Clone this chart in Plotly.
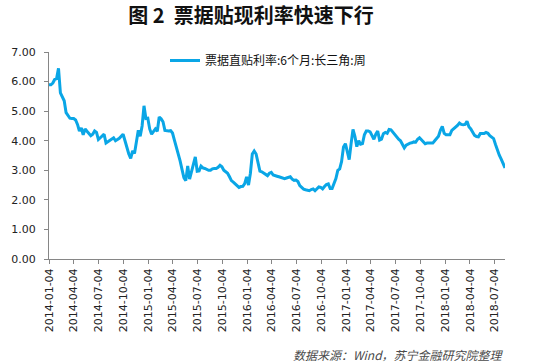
import pandas as pd
import plotly.graph_objects as go

# Weekly discount rate (%), starting 2014-01-04
start_date = "2014-01-04"
rates = [
    5.89, 5.89, 5.95, 6.07, 6.10, 6.45, 5.62, 5.47, 5.35, 4.95,
    4.85, 4.76, 4.75, 4.75, 4.70, 4.55, 4.33, 4.43, 4.20, 4.40,
    4.32, 4.25, 4.17, 4.22, 4.33, 4.28, 4.04, 4.10, 4.15, 4.22,
    3.92, 3.97, 4.03, 4.05, 4.10, 4.00, 4.03, 4.08, 4.15, 4.22,
    4.00, 3.76, 3.55, 3.40, 3.66, 3.57, 3.95, 4.35, 4.15, 4.50,
    5.18, 4.75, 4.76, 4.40, 4.22, 4.32, 4.40, 4.32, 4.80, 4.74,
    4.64, 4.35, 4.33, 4.33, 4.34, 4.26, 4.02, 3.80, 3.58, 3.32,
    3.03, 2.75, 2.65, 3.15, 2.70, 2.95, 3.18, 3.45, 2.97, 2.98,
    3.14, 3.08, 3.06, 3.03, 3.00, 3.00, 3.05, 3.06, 3.06, 3.10,
    3.17, 3.12, 3.00, 2.95, 2.90, 2.78, 2.65, 2.60, 2.55, 2.50,
    2.42, 2.45, 2.46, 2.55, 2.78, 2.50, 2.90, 3.55, 3.65, 3.55,
    3.25, 2.97, 2.95, 2.90, 2.85, 2.82, 2.90, 2.93, 2.84, 2.83,
    2.80, 2.78, 2.76, 2.75, 2.72, 2.74, 2.76, 2.78, 2.70, 2.66,
    2.67, 2.62, 2.48, 2.40, 2.36, 2.34, 2.33, 2.31, 2.35, 2.37,
    2.31, 2.38, 2.44, 2.42, 2.37, 2.45, 2.52, 2.54, 2.38, 2.38,
    2.55, 2.72, 3.00, 3.05, 3.30, 3.79, 3.90, 3.58, 3.36, 3.90,
    4.38, 4.15, 3.80, 4.00, 3.88, 3.90, 4.20, 4.33, 4.33, 4.30,
    4.16, 4.05, 4.22, 4.33, 4.02, 4.05, 4.24, 4.28, 4.25, 4.38,
    4.37, 4.28, 4.20, 4.10, 4.05, 4.00, 3.85, 3.76, 3.85, 3.90,
    3.92, 3.93, 3.96, 3.95, 4.05, 4.10, 4.03, 3.95, 3.90, 3.92,
    3.92, 3.92, 3.92, 4.00, 4.07, 4.15, 4.35, 4.48, 4.25, 4.20,
    4.20, 4.20, 4.35, 4.40, 4.45, 4.52, 4.60, 4.55, 4.54, 4.55,
    4.66, 4.47, 4.40, 4.27, 4.18, 4.14, 4.13, 4.24, 4.24, 4.24,
    4.28, 4.25, 4.17, 4.12, 4.07, 3.87, 3.65, 3.51, 3.38, 3.22,
    3.08,
]

tick_labels = [
    "2014-01-04", "2014-04-04", "2014-07-04", "2014-10-04",
    "2015-01-04", "2015-04-04", "2015-07-04", "2015-10-04",
    "2016-01-04", "2016-04-04", "2016-07-04", "2016-10-04",
    "2017-01-04", "2017-04-04", "2017-07-04", "2017-10-04",
    "2018-01-04", "2018-04-04", "2018-07-04",
]
y_ticks = [0, 1, 2, 3, 4, 5, 6, 7]

series_name = "票据直贴利率:6个月:长三角:周"
title_text = "图 2\u00a0\u00a0票据贴现利率快速下行"
source_text = "数据来源：Wind，苏宁金融研究院整理"

dates = pd.date_range(start=start_date, periods=len(rates), freq="7D")

FONT = "DejaVu Sans, Noto Sans CJK SC, sans-serif"
CJK = "Noto Sans CJK SC, DejaVu Sans, sans-serif"
AXIS_COLOR = "#868686"

fig = go.Figure()
fig.add_trace(go.Scatter(
    x=dates, y=rates, mode="lines", name=series_name,
    line=dict(color="#0AA6E6", width=3),
))

W, H = 533, 362
L, R, T, B = 49, 28, 52, 103

fig.update_layout(
    width=W, height=H,
    margin=dict(l=L, r=R, t=T, b=B, pad=0),
    paper_bgcolor="white", plot_bgcolor="white",
    font=dict(family=FONT, size=11, color="#333333"),
    showlegend=True,
    legend=dict(
        x=(165 - L) / (W - L - R), y=1.0 + (T - 46) / (H - T - B),
        xanchor="left", yanchor="top",
        orientation="h",
        font=dict(family=CJK, size=12, color="#111111"),
        bgcolor="rgba(0,0,0,0)",
        itemwidth=30,
    ),
    title=dict(
        text=title_text,
        x=251 / W, xanchor="center", xref="container",
        y=1 - 15.5 / H, yanchor="middle", yref="container",
        font=dict(family=CJK, size=20, color="#111111", weight="bold"),
    ),
    annotations=[dict(
        text=source_text, xref="paper", yref="paper",
        x=(506 - L) / (W - L - R), y=-(354 - (H - B)) / (H - T - B),
        xanchor="right", yanchor="middle", showarrow=False,
        font=dict(family=CJK, size=12, color="#4a4a4a", style="italic"),
    )],
)

fig.update_xaxes(
    type="date",
    range=[dates[0], dates[-1]],
    tickvals=tick_labels, ticktext=tick_labels,
    tickangle=-90,
    showgrid=False, zeroline=False,
    showline=True, linecolor=AXIS_COLOR, linewidth=1,
    ticks="outside", ticklen=4, tickcolor=AXIS_COLOR,
    tickfont=dict(family=FONT, size=11, color="#222222"),
)
fig.update_yaxes(
    range=[0, 7], tickvals=y_ticks, tickformat=".2f",
    showgrid=False, zeroline=False,
    showline=True, linecolor=AXIS_COLOR, linewidth=1,
    ticks="outside", ticklen=4, tickcolor=AXIS_COLOR,
    tickfont=dict(family=FONT, size=11, color="#222222"),
    ticklabelstandoff=6,
)

fig.write_html(
    "out.html",
    config={"displayModeBar": False},
    post_script="document.body.style.margin='0';document.body.style.overflow='hidden';",
)
